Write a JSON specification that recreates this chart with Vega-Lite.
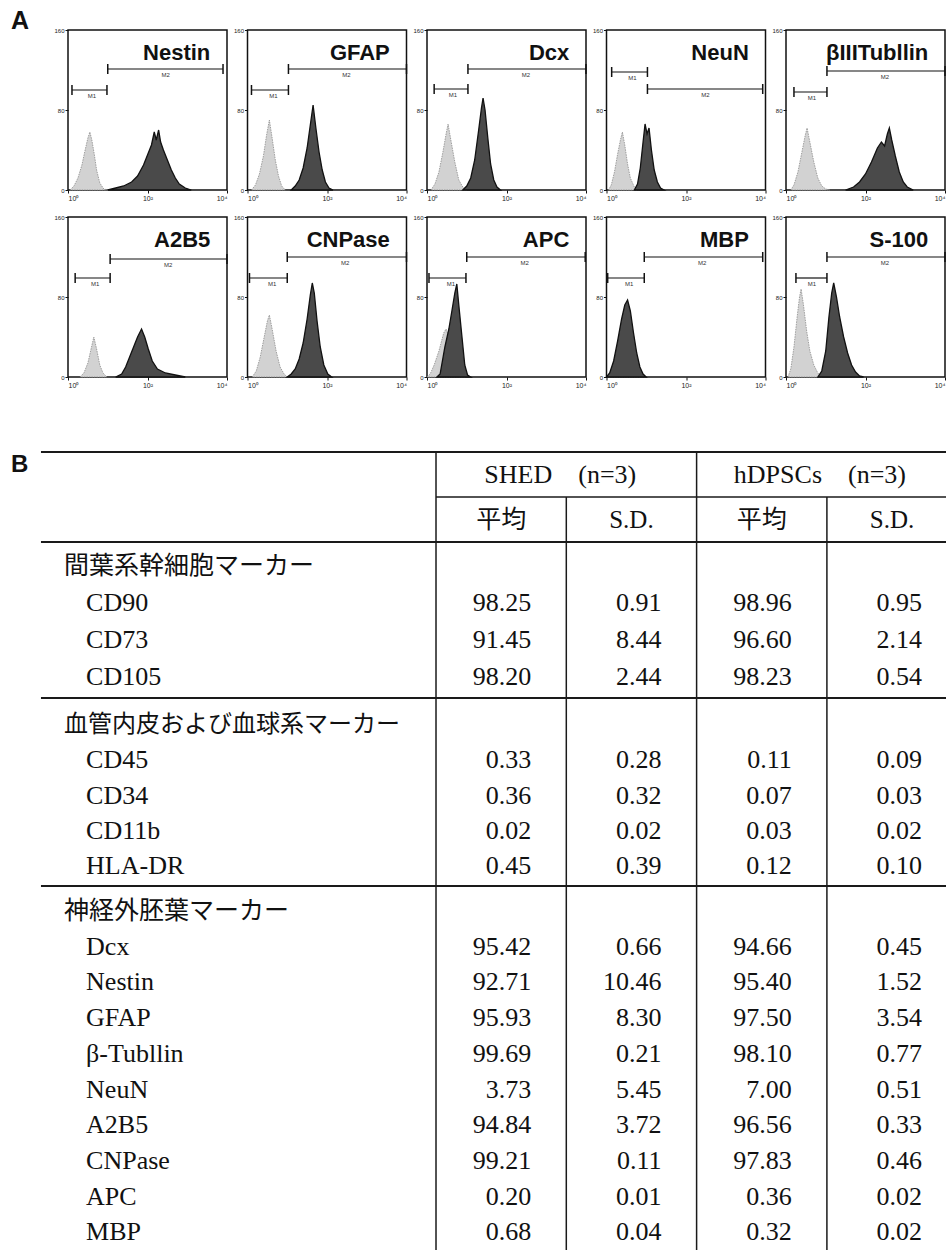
{
"$schema": "https://vega.github.io/schema/vega-lite/v6.json",
"background": "white",
"padding": {"left": 10, "top": 9, "right": 0, "bottom": 0},
"spacing": 62,
"config": {"view": {"stroke": "#111", "strokeWidth": 1.5}, "font": "Liberation Sans", "axis": {"labelOverlap": false, "labelSeparation": 0, "labelBound": false}, "axisX": {"labelOverlap": false}, "axisY": {"labelOverlap": false}, "axisQuantitative": {"labelOverlap": false}, "header": {"labels": false, "title": null, "labelFontSize": 0, "labelPadding": 0, "titlePadding": 0}},
"datasets": {
"panelA": [
{"marker":"Nestin","kind":"ctrl","x":0.05,"n":0},{"marker":"Nestin","kind":"ctrl","x":0.15,"n":4},{"marker":"Nestin","kind":"ctrl","x":0.25,"n":12},{"marker":"Nestin","kind":"ctrl","x":0.35,"n":25},{"marker":"Nestin","kind":"ctrl","x":0.42,"n":38},{"marker":"Nestin","kind":"ctrl","x":0.5,"n":52},{"marker":"Nestin","kind":"ctrl","x":0.55,"n":58},{"marker":"Nestin","kind":"ctrl","x":0.6,"n":50},{"marker":"Nestin","kind":"ctrl","x":0.66,"n":36},{"marker":"Nestin","kind":"ctrl","x":0.72,"n":20},{"marker":"Nestin","kind":"ctrl","x":0.8,"n":7},{"marker":"Nestin","kind":"ctrl","x":0.9,"n":1},{"marker":"Nestin","kind":"ctrl","x":1.0,"n":0},
{"marker":"Nestin","kind":"stain","x":1.0,"n":0},{"marker":"Nestin","kind":"stain","x":1.2,"n":2},{"marker":"Nestin","kind":"stain","x":1.4,"n":4},{"marker":"Nestin","kind":"stain","x":1.6,"n":8},{"marker":"Nestin","kind":"stain","x":1.75,"n":14},{"marker":"Nestin","kind":"stain","x":1.9,"n":25},{"marker":"Nestin","kind":"stain","x":2.0,"n":35},{"marker":"Nestin","kind":"stain","x":2.1,"n":45},{"marker":"Nestin","kind":"stain","x":2.17,"n":58},{"marker":"Nestin","kind":"stain","x":2.22,"n":50},{"marker":"Nestin","kind":"stain","x":2.28,"n":60},{"marker":"Nestin","kind":"stain","x":2.33,"n":48},{"marker":"Nestin","kind":"stain","x":2.4,"n":40},{"marker":"Nestin","kind":"stain","x":2.5,"n":30},{"marker":"Nestin","kind":"stain","x":2.6,"n":20},{"marker":"Nestin","kind":"stain","x":2.7,"n":12},{"marker":"Nestin","kind":"stain","x":2.8,"n":6},{"marker":"Nestin","kind":"stain","x":2.95,"n":2},{"marker":"Nestin","kind":"stain","x":3.1,"n":0},
{"marker":"GFAP","kind":"ctrl","x":0.1,"n":0},{"marker":"GFAP","kind":"ctrl","x":0.2,"n":5},{"marker":"GFAP","kind":"ctrl","x":0.3,"n":16},{"marker":"GFAP","kind":"ctrl","x":0.4,"n":34},{"marker":"GFAP","kind":"ctrl","x":0.48,"n":55},{"marker":"GFAP","kind":"ctrl","x":0.55,"n":70},{"marker":"GFAP","kind":"ctrl","x":0.62,"n":52},{"marker":"GFAP","kind":"ctrl","x":0.7,"n":30},{"marker":"GFAP","kind":"ctrl","x":0.78,"n":14},{"marker":"GFAP","kind":"ctrl","x":0.86,"n":4},{"marker":"GFAP","kind":"ctrl","x":0.95,"n":0},
{"marker":"GFAP","kind":"stain","x":1.1,"n":0},{"marker":"GFAP","kind":"stain","x":1.2,"n":4},{"marker":"GFAP","kind":"stain","x":1.3,"n":10},{"marker":"GFAP","kind":"stain","x":1.4,"n":22},{"marker":"GFAP","kind":"stain","x":1.5,"n":42},{"marker":"GFAP","kind":"stain","x":1.58,"n":65},{"marker":"GFAP","kind":"stain","x":1.65,"n":85},{"marker":"GFAP","kind":"stain","x":1.72,"n":62},{"marker":"GFAP","kind":"stain","x":1.8,"n":38},{"marker":"GFAP","kind":"stain","x":1.88,"n":20},{"marker":"GFAP","kind":"stain","x":1.96,"n":8},{"marker":"GFAP","kind":"stain","x":2.05,"n":2},{"marker":"GFAP","kind":"stain","x":2.15,"n":0},
{"marker":"Dcx","kind":"ctrl","x":0.1,"n":0},{"marker":"Dcx","kind":"ctrl","x":0.2,"n":6},{"marker":"Dcx","kind":"ctrl","x":0.3,"n":18},{"marker":"Dcx","kind":"ctrl","x":0.4,"n":38},{"marker":"Dcx","kind":"ctrl","x":0.48,"n":56},{"marker":"Dcx","kind":"ctrl","x":0.53,"n":66},{"marker":"Dcx","kind":"ctrl","x":0.6,"n":50},{"marker":"Dcx","kind":"ctrl","x":0.7,"n":28},{"marker":"Dcx","kind":"ctrl","x":0.8,"n":10},{"marker":"Dcx","kind":"ctrl","x":0.9,"n":3},{"marker":"Dcx","kind":"ctrl","x":1.0,"n":0},
{"marker":"Dcx","kind":"stain","x":0.9,"n":0},{"marker":"Dcx","kind":"stain","x":1.0,"n":4},{"marker":"Dcx","kind":"stain","x":1.1,"n":12},{"marker":"Dcx","kind":"stain","x":1.2,"n":30},{"marker":"Dcx","kind":"stain","x":1.3,"n":60},{"marker":"Dcx","kind":"stain","x":1.37,"n":82},{"marker":"Dcx","kind":"stain","x":1.41,"n":92},{"marker":"Dcx","kind":"stain","x":1.46,"n":80},{"marker":"Dcx","kind":"stain","x":1.53,"n":52},{"marker":"Dcx","kind":"stain","x":1.6,"n":26},{"marker":"Dcx","kind":"stain","x":1.68,"n":10},{"marker":"Dcx","kind":"stain","x":1.76,"n":3},{"marker":"Dcx","kind":"stain","x":1.85,"n":0},
{"marker":"NeuN","kind":"ctrl","x":0.05,"n":0},{"marker":"NeuN","kind":"ctrl","x":0.12,"n":5},{"marker":"NeuN","kind":"ctrl","x":0.2,"n":18},{"marker":"NeuN","kind":"ctrl","x":0.28,"n":36},{"marker":"NeuN","kind":"ctrl","x":0.35,"n":50},{"marker":"NeuN","kind":"ctrl","x":0.4,"n":58},{"marker":"NeuN","kind":"ctrl","x":0.46,"n":45},{"marker":"NeuN","kind":"ctrl","x":0.53,"n":26},{"marker":"NeuN","kind":"ctrl","x":0.6,"n":12},{"marker":"NeuN","kind":"ctrl","x":0.7,"n":3},{"marker":"NeuN","kind":"ctrl","x":0.8,"n":0},
{"marker":"NeuN","kind":"stain","x":0.7,"n":0},{"marker":"NeuN","kind":"stain","x":0.78,"n":6},{"marker":"NeuN","kind":"stain","x":0.85,"n":22},{"marker":"NeuN","kind":"stain","x":0.92,"n":48},{"marker":"NeuN","kind":"stain","x":0.97,"n":66},{"marker":"NeuN","kind":"stain","x":1.02,"n":56},{"marker":"NeuN","kind":"stain","x":1.07,"n":62},{"marker":"NeuN","kind":"stain","x":1.13,"n":40},{"marker":"NeuN","kind":"stain","x":1.2,"n":20},{"marker":"NeuN","kind":"stain","x":1.28,"n":8},{"marker":"NeuN","kind":"stain","x":1.36,"n":2},{"marker":"NeuN","kind":"stain","x":1.45,"n":0},
{"marker":"βIIITubllin","kind":"ctrl","x":0.12,"n":0},{"marker":"βIIITubllin","kind":"ctrl","x":0.2,"n":5},{"marker":"βIIITubllin","kind":"ctrl","x":0.3,"n":18},{"marker":"βIIITubllin","kind":"ctrl","x":0.4,"n":38},{"marker":"βIIITubllin","kind":"ctrl","x":0.48,"n":54},{"marker":"βIIITubllin","kind":"ctrl","x":0.53,"n":62},{"marker":"βIIITubllin","kind":"ctrl","x":0.6,"n":48},{"marker":"βIIITubllin","kind":"ctrl","x":0.7,"n":28},{"marker":"βIIITubllin","kind":"ctrl","x":0.8,"n":12},{"marker":"βIIITubllin","kind":"ctrl","x":0.9,"n":4},{"marker":"βIIITubllin","kind":"ctrl","x":1.0,"n":1},{"marker":"βIIITubllin","kind":"ctrl","x":1.1,"n":0},
{"marker":"βIIITubllin","kind":"stain","x":1.5,"n":0},{"marker":"βIIITubllin","kind":"stain","x":1.7,"n":3},{"marker":"βIIITubllin","kind":"stain","x":1.85,"n":8},{"marker":"βIIITubllin","kind":"stain","x":2.0,"n":16},{"marker":"βIIITubllin","kind":"stain","x":2.15,"n":28},{"marker":"βIIITubllin","kind":"stain","x":2.3,"n":42},{"marker":"βIIITubllin","kind":"stain","x":2.4,"n":48},{"marker":"βIIITubllin","kind":"stain","x":2.48,"n":44},{"marker":"βIIITubllin","kind":"stain","x":2.55,"n":56},{"marker":"βIIITubllin","kind":"stain","x":2.6,"n":62},{"marker":"βIIITubllin","kind":"stain","x":2.66,"n":50},{"marker":"βIIITubllin","kind":"stain","x":2.75,"n":34},{"marker":"βIIITubllin","kind":"stain","x":2.85,"n":18},{"marker":"βIIITubllin","kind":"stain","x":2.95,"n":8},{"marker":"βIIITubllin","kind":"stain","x":3.05,"n":3},{"marker":"βIIITubllin","kind":"stain","x":3.2,"n":0},
{"marker":"A2B5","kind":"ctrl","x":0.3,"n":0},{"marker":"A2B5","kind":"ctrl","x":0.4,"n":4},{"marker":"A2B5","kind":"ctrl","x":0.5,"n":14},{"marker":"A2B5","kind":"ctrl","x":0.58,"n":28},{"marker":"A2B5","kind":"ctrl","x":0.65,"n":40},{"marker":"A2B5","kind":"ctrl","x":0.72,"n":28},{"marker":"A2B5","kind":"ctrl","x":0.8,"n":12},{"marker":"A2B5","kind":"ctrl","x":0.88,"n":4},{"marker":"A2B5","kind":"ctrl","x":0.98,"n":0},
{"marker":"A2B5","kind":"stain","x":1.2,"n":0},{"marker":"A2B5","kind":"stain","x":1.35,"n":3},{"marker":"A2B5","kind":"stain","x":1.45,"n":10},{"marker":"A2B5","kind":"stain","x":1.55,"n":20},{"marker":"A2B5","kind":"stain","x":1.65,"n":30},{"marker":"A2B5","kind":"stain","x":1.75,"n":40},{"marker":"A2B5","kind":"stain","x":1.85,"n":48},{"marker":"A2B5","kind":"stain","x":1.93,"n":40},{"marker":"A2B5","kind":"stain","x":2.02,"n":28},{"marker":"A2B5","kind":"stain","x":2.12,"n":16},{"marker":"A2B5","kind":"stain","x":2.25,"n":8},{"marker":"A2B5","kind":"stain","x":2.45,"n":4},{"marker":"A2B5","kind":"stain","x":2.7,"n":2},{"marker":"A2B5","kind":"stain","x":2.95,"n":0},
{"marker":"CNPase","kind":"ctrl","x":0.12,"n":0},{"marker":"CNPase","kind":"ctrl","x":0.22,"n":6},{"marker":"CNPase","kind":"ctrl","x":0.32,"n":20},{"marker":"CNPase","kind":"ctrl","x":0.42,"n":40},{"marker":"CNPase","kind":"ctrl","x":0.5,"n":56},{"marker":"CNPase","kind":"ctrl","x":0.55,"n":62},{"marker":"CNPase","kind":"ctrl","x":0.62,"n":48},{"marker":"CNPase","kind":"ctrl","x":0.72,"n":26},{"marker":"CNPase","kind":"ctrl","x":0.82,"n":10},{"marker":"CNPase","kind":"ctrl","x":0.92,"n":3},{"marker":"CNPase","kind":"ctrl","x":1.0,"n":0},
{"marker":"CNPase","kind":"stain","x":1.0,"n":0},{"marker":"CNPase","kind":"stain","x":1.1,"n":3},{"marker":"CNPase","kind":"stain","x":1.2,"n":8},{"marker":"CNPase","kind":"stain","x":1.3,"n":18},{"marker":"CNPase","kind":"stain","x":1.4,"n":34},{"marker":"CNPase","kind":"stain","x":1.5,"n":58},{"marker":"CNPase","kind":"stain","x":1.58,"n":82},{"marker":"CNPase","kind":"stain","x":1.63,"n":94},{"marker":"CNPase","kind":"stain","x":1.68,"n":84},{"marker":"CNPase","kind":"stain","x":1.75,"n":56},{"marker":"CNPase","kind":"stain","x":1.83,"n":30},{"marker":"CNPase","kind":"stain","x":1.92,"n":12},{"marker":"CNPase","kind":"stain","x":2.02,"n":3},{"marker":"CNPase","kind":"stain","x":2.12,"n":0},
{"marker":"APC","kind":"ctrl","x":0.0,"n":0},{"marker":"APC","kind":"ctrl","x":0.08,"n":3},{"marker":"APC","kind":"ctrl","x":0.18,"n":12},{"marker":"APC","kind":"ctrl","x":0.3,"n":26},{"marker":"APC","kind":"ctrl","x":0.42,"n":44},{"marker":"APC","kind":"ctrl","x":0.48,"n":48},{"marker":"APC","kind":"ctrl","x":0.55,"n":40},{"marker":"APC","kind":"ctrl","x":0.65,"n":22},{"marker":"APC","kind":"ctrl","x":0.75,"n":8},{"marker":"APC","kind":"ctrl","x":0.85,"n":2},{"marker":"APC","kind":"ctrl","x":0.95,"n":0},
{"marker":"APC","kind":"stain","x":0.25,"n":0},{"marker":"APC","kind":"stain","x":0.33,"n":3},{"marker":"APC","kind":"stain","x":0.45,"n":30},{"marker":"APC","kind":"stain","x":0.55,"n":48},{"marker":"APC","kind":"stain","x":0.63,"n":67},{"marker":"APC","kind":"stain","x":0.7,"n":84},{"marker":"APC","kind":"stain","x":0.75,"n":93},{"marker":"APC","kind":"stain","x":0.8,"n":72},{"marker":"APC","kind":"stain","x":0.88,"n":40},{"marker":"APC","kind":"stain","x":0.95,"n":12},{"marker":"APC","kind":"stain","x":1.02,"n":2},{"marker":"APC","kind":"stain","x":1.1,"n":0},
{"marker":"MBP","kind":"ctrl","x":0.05,"n":0},{"marker":"MBP","kind":"ctrl","x":0.15,"n":10},{"marker":"MBP","kind":"ctrl","x":0.3,"n":35},{"marker":"MBP","kind":"ctrl","x":0.45,"n":60},{"marker":"MBP","kind":"ctrl","x":0.52,"n":66},{"marker":"MBP","kind":"ctrl","x":0.62,"n":45},{"marker":"MBP","kind":"ctrl","x":0.75,"n":18},{"marker":"MBP","kind":"ctrl","x":0.9,"n":2},{"marker":"MBP","kind":"ctrl","x":1.0,"n":0},
{"marker":"MBP","kind":"stain","x":0.0,"n":0},{"marker":"MBP","kind":"stain","x":0.08,"n":4},{"marker":"MBP","kind":"stain","x":0.18,"n":16},{"marker":"MBP","kind":"stain","x":0.28,"n":36},{"marker":"MBP","kind":"stain","x":0.38,"n":58},{"marker":"MBP","kind":"stain","x":0.46,"n":72},{"marker":"MBP","kind":"stain","x":0.53,"n":77},{"marker":"MBP","kind":"stain","x":0.6,"n":66},{"marker":"MBP","kind":"stain","x":0.68,"n":44},{"marker":"MBP","kind":"stain","x":0.76,"n":24},{"marker":"MBP","kind":"stain","x":0.84,"n":10},{"marker":"MBP","kind":"stain","x":0.92,"n":3},{"marker":"MBP","kind":"stain","x":1.0,"n":0},
{"marker":"S-100","kind":"ctrl","x":0.05,"n":0},{"marker":"S-100","kind":"ctrl","x":0.12,"n":8},{"marker":"S-100","kind":"ctrl","x":0.2,"n":30},{"marker":"S-100","kind":"ctrl","x":0.28,"n":60},{"marker":"S-100","kind":"ctrl","x":0.34,"n":80},{"marker":"S-100","kind":"ctrl","x":0.38,"n":88},{"marker":"S-100","kind":"ctrl","x":0.44,"n":72},{"marker":"S-100","kind":"ctrl","x":0.52,"n":46},{"marker":"S-100","kind":"ctrl","x":0.6,"n":26},{"marker":"S-100","kind":"ctrl","x":0.7,"n":12},{"marker":"S-100","kind":"ctrl","x":0.8,"n":4},{"marker":"S-100","kind":"ctrl","x":0.9,"n":0},
{"marker":"S-100","kind":"stain","x":0.8,"n":0},{"marker":"S-100","kind":"stain","x":0.9,"n":6},{"marker":"S-100","kind":"stain","x":1.0,"n":26},{"marker":"S-100","kind":"stain","x":1.08,"n":60},{"marker":"S-100","kind":"stain","x":1.15,"n":84},{"marker":"S-100","kind":"stain","x":1.2,"n":94},{"marker":"S-100","kind":"stain","x":1.27,"n":80},{"marker":"S-100","kind":"stain","x":1.35,"n":60},{"marker":"S-100","kind":"stain","x":1.45,"n":40},{"marker":"S-100","kind":"stain","x":1.55,"n":24},{"marker":"S-100","kind":"stain","x":1.65,"n":12},{"marker":"S-100","kind":"stain","x":1.75,"n":5},{"marker":"S-100","kind":"stain","x":1.85,"n":1},{"marker":"S-100","kind":"stain","x":1.95,"n":0},
{"marker":"Nestin","kind":"M1","x1":0.1,"x2":0.98,"level":100},{"marker":"Nestin","kind":"M2","x1":1.0,"x2":3.9,"level":121},
{"marker":"GFAP","kind":"M1","x1":0.1,"x2":1.03,"level":100},{"marker":"GFAP","kind":"M2","x1":1.03,"x2":4.0,"level":121},
{"marker":"Dcx","kind":"M1","x1":0.18,"x2":1.03,"level":101},{"marker":"Dcx","kind":"M2","x1":1.03,"x2":4.0,"level":121},
{"marker":"NeuN","kind":"M1","x1":0.13,"x2":1.03,"level":118},{"marker":"NeuN","kind":"M2","x1":1.03,"x2":3.93,"level":101},
{"marker":"βIIITubllin","kind":"M1","x1":0.2,"x2":1.03,"level":98},{"marker":"βIIITubllin","kind":"M2","x1":1.03,"x2":4.0,"level":119},
{"marker":"A2B5","kind":"M1","x1":0.18,"x2":1.06,"level":99},{"marker":"A2B5","kind":"M2","x1":1.06,"x2":4.0,"level":118},
{"marker":"CNPase","kind":"M1","x1":0.05,"x2":1.0,"level":99},{"marker":"CNPase","kind":"M2","x1":1.0,"x2":4.0,"level":120},
{"marker":"APC","kind":"M1","x1":0.05,"x2":0.98,"level":99},{"marker":"APC","kind":"M2","x1":1.0,"x2":3.98,"level":120},
{"marker":"MBP","kind":"M1","x1":0.03,"x2":0.95,"level":99},{"marker":"MBP","kind":"M2","x1":0.95,"x2":3.93,"level":120},
{"marker":"S-100","kind":"M1","x1":0.25,"x2":1.03,"level":99},{"marker":"S-100","kind":"M2","x1":1.03,"x2":4.0,"level":120}
],
"rows": [
{"g":1,"i":0,"label":"間葉系幹細胞マーカー"},{"g":1,"i":1,"label":"CD90"},{"g":1,"i":2,"label":"CD73"},{"g":1,"i":3,"label":"CD105"},
{"g":2,"i":0,"label":"血管内皮および血球系マーカー"},{"g":2,"i":1,"label":"CD45"},{"g":2,"i":2,"label":"CD34"},{"g":2,"i":3,"label":"CD11b"},{"g":2,"i":4,"label":"HLA-DR"},
{"g":3,"i":0,"label":"神経外胚葉マーカー"},{"g":3,"i":1,"label":"Dcx"},{"g":3,"i":2,"label":"Nestin"},{"g":3,"i":3,"label":"GFAP"},{"g":3,"i":4,"label":"β-Tubllin"},{"g":3,"i":5,"label":"NeuN"},{"g":3,"i":6,"label":"A2B5"},{"g":3,"i":7,"label":"CNPase"},{"g":3,"i":8,"label":"APC"},{"g":3,"i":9,"label":"MBP"}
],
"vals": [
{"g":1,"i":1,"col":1,"v":98.25},{"g":1,"i":1,"col":2,"v":0.91},{"g":1,"i":1,"col":3,"v":98.96},{"g":1,"i":1,"col":4,"v":0.95},
{"g":1,"i":2,"col":1,"v":91.45},{"g":1,"i":2,"col":2,"v":8.44},{"g":1,"i":2,"col":3,"v":96.60},{"g":1,"i":2,"col":4,"v":2.14},
{"g":1,"i":3,"col":1,"v":98.20},{"g":1,"i":3,"col":2,"v":2.44},{"g":1,"i":3,"col":3,"v":98.23},{"g":1,"i":3,"col":4,"v":0.54},
{"g":2,"i":1,"col":1,"v":0.33},{"g":2,"i":1,"col":2,"v":0.28},{"g":2,"i":1,"col":3,"v":0.11},{"g":2,"i":1,"col":4,"v":0.09},
{"g":2,"i":2,"col":1,"v":0.36},{"g":2,"i":2,"col":2,"v":0.32},{"g":2,"i":2,"col":3,"v":0.07},{"g":2,"i":2,"col":4,"v":0.03},
{"g":2,"i":3,"col":1,"v":0.02},{"g":2,"i":3,"col":2,"v":0.02},{"g":2,"i":3,"col":3,"v":0.03},{"g":2,"i":3,"col":4,"v":0.02},
{"g":2,"i":4,"col":1,"v":0.45},{"g":2,"i":4,"col":2,"v":0.39},{"g":2,"i":4,"col":3,"v":0.12},{"g":2,"i":4,"col":4,"v":0.10},
{"g":3,"i":1,"col":1,"v":95.42},{"g":3,"i":1,"col":2,"v":0.66},{"g":3,"i":1,"col":3,"v":94.66},{"g":3,"i":1,"col":4,"v":0.45},
{"g":3,"i":2,"col":1,"v":92.71},{"g":3,"i":2,"col":2,"v":10.46},{"g":3,"i":2,"col":3,"v":95.40},{"g":3,"i":2,"col":4,"v":1.52},
{"g":3,"i":3,"col":1,"v":95.93},{"g":3,"i":3,"col":2,"v":8.30},{"g":3,"i":3,"col":3,"v":97.50},{"g":3,"i":3,"col":4,"v":3.54},
{"g":3,"i":4,"col":1,"v":99.69},{"g":3,"i":4,"col":2,"v":0.21},{"g":3,"i":4,"col":3,"v":98.10},{"g":3,"i":4,"col":4,"v":0.77},
{"g":3,"i":5,"col":1,"v":3.73},{"g":3,"i":5,"col":2,"v":5.45},{"g":3,"i":5,"col":3,"v":7.00},{"g":3,"i":5,"col":4,"v":0.51},
{"g":3,"i":6,"col":1,"v":94.84},{"g":3,"i":6,"col":2,"v":3.72},{"g":3,"i":6,"col":3,"v":96.56},{"g":3,"i":6,"col":4,"v":0.33},
{"g":3,"i":7,"col":1,"v":99.21},{"g":3,"i":7,"col":2,"v":0.11},{"g":3,"i":7,"col":3,"v":97.83},{"g":3,"i":7,"col":4,"v":0.46},
{"g":3,"i":8,"col":1,"v":0.20},{"g":3,"i":8,"col":2,"v":0.01},{"g":3,"i":8,"col":3,"v":0.36},{"g":3,"i":8,"col":4,"v":0.02},
{"g":3,"i":9,"col":1,"v":0.68},{"g":3,"i":9,"col":2,"v":0.04},{"g":3,"i":9,"col":3,"v":0.32},{"g":3,"i":9,"col":4,"v":0.02}
],
"subhdr": [{"col":1,"t":"平均"},{"col":2,"t":"S.D."},{"col":3,"t":"平均"},{"col":4,"t":"S.D."}]
},
"vconcat": [
{
"title": {"text": "A", "anchor": "start", "frame": "group", "dx": -57, "fontSize": 25, "font": "Liberation Sans", "fontWeight": "bold", "color": "#111", "offset": -28, "baseline": "alphabetic"},
"data": {"name": "panelA"},
"facet": {"field": "marker", "type": "nominal", "sort": ["Nestin","GFAP","Dcx","NeuN","βIIITubllin","A2B5","CNPase","APC","MBP","S-100"], "header": {"labels": false, "title": null, "labelExpr": "''", "labelFontSize": 0, "labelPadding": 0}},
"columns": 5,
"bounds": "flush",
"spacing": {"row": 27, "column": 20.5},
"resolve": {"axis": {"x": "independent", "y": "independent"}},
"spec": {
"width": 159, "height": 160,
"layer": [
{"transform": [{"filter": "datum.kind === 'ctrl'"}],
 "mark": {"type": "area", "fill": "#d2d2d2", "stroke": "#8c8c8c", "strokeWidth": 0.8, "strokeDash": [1.5, 1]},
 "encoding": {
  "x": {"field": "x", "type": "quantitative", "title": null, "scale": {"domain": [0, 4], "nice": false, "zero": false},
        "axis": {"values": [0,1,2,3,4], "labelExpr": "['10⁰','10¹','10²','10³','10⁴'][datum.value]", "labelFontSize": 7, "labelColor": "#222", "labelPadding": 1, "labelFlush": true, "labelOverlap": false, "labelSeparation": 0, "tickSize": 3, "tickColor": "#111", "domain": false, "grid": false}},
  "y": {"field": "n", "type": "quantitative", "title": null, "stack": null, "scale": {"domain": [0, 160], "nice": false},
        "axis": {"values": [0,20,40,60,80,100,120,140,160], "labelFontSize": 6, "labelColor": "#222", "labelPadding": 1, "labelOverlap": false, "labelSeparation": 0, "tickSize": 3, "tickColor": "#111", "domain": false, "grid": false}}}},
{"transform": [{"filter": "datum.kind === 'stain'"}],
 "mark": {"type": "area", "fill": "#4a4a4a", "stroke": "#111", "strokeWidth": 1.3},
 "encoding": {
  "x": {"field": "x", "type": "quantitative", "title": null, "axis": {"labelOverlap": false}},
  "y": {"field": "n", "type": "quantitative", "title": null, "stack": null, "axis": {"labelOverlap": false}}}},
{"transform": [{"filter": "datum.kind === 'M1' || datum.kind === 'M2'"}],
 "mark": {"type": "rule", "color": "#111", "strokeWidth": 1.2},
 "encoding": {
  "x": {"field": "x1", "type": "quantitative", "title": null, "axis": {"labelOverlap": false}},
  "x2": {"field": "x2"},
  "y": {"field": "level", "type": "quantitative", "title": null, "axis": {"labelOverlap": false}}}},
{"transform": [{"filter": "datum.kind === 'M1' || datum.kind === 'M2'"}],
 "mark": {"type": "point", "shape": "M0,-1L0,1", "size": 100, "filled": false, "stroke": "#111", "strokeWidth": 1.5, "opacity": 1},
 "encoding": {
  "x": {"field": "x1", "type": "quantitative", "title": null, "axis": {"labelOverlap": false}},
  "y": {"field": "level", "type": "quantitative", "title": null, "axis": {"labelOverlap": false}}}},
{"transform": [{"filter": "datum.kind === 'M1' || datum.kind === 'M2'"}],
 "mark": {"type": "point", "shape": "M0,-1L0,1", "size": 100, "filled": false, "stroke": "#111", "strokeWidth": 1.5, "opacity": 1},
 "encoding": {
  "x": {"field": "x2", "type": "quantitative", "title": null, "axis": {"labelOverlap": false}},
  "y": {"field": "level", "type": "quantitative", "title": null, "axis": {"labelOverlap": false}}}},
{"transform": [{"filter": "datum.kind === 'M1'"}],
 "mark": {"type": "text", "fontSize": 6, "dx": -15, "dy": 6, "color": "#333"},
 "encoding": {
  "x": {"field": "x2", "type": "quantitative", "title": null, "axis": {"labelOverlap": false}},
  "y": {"field": "level", "type": "quantitative", "title": null, "axis": {"labelOverlap": false}},
  "text": {"field": "kind"}}},
{"transform": [{"filter": "datum.kind === 'M2'"}],
 "mark": {"type": "text", "fontSize": 6, "dx": 58, "dy": 6, "color": "#333"},
 "encoding": {
  "x": {"field": "x1", "type": "quantitative", "title": null, "axis": {"labelOverlap": false}},
  "y": {"field": "level", "type": "quantitative", "title": null, "axis": {"labelOverlap": false}},
  "text": {"field": "kind"}}},
{"transform": [{"filter": "datum.kind === 'M2'"}],
 "mark": {"type": "text", "align": "right", "baseline": "middle", "fontSize": 22, "fontWeight": "bold", "font": "Liberation Sans", "color": "#111"},
 "encoding": {
  "x": {"datum": 3.58, "type": "quantitative", "title": null, "axis": {"labelOverlap": false}},
  "y": {"datum": 137, "type": "quantitative", "title": null, "axis": {"labelOverlap": false}},
  "text": {"field": "marker"}}}
]
}
},
{
"vconcat": [
{
"width": 879, "height": 90, "view": {"stroke": null},
"layer": [
{"data": {"values": [{}]}, "mark": {"type": "rule", "color": "#1a1a1a", "strokeWidth": 2},
 "encoding": {"x": {"datum": -2.5317, "type": "quantitative", "scale": {"domain": [-2.3243, 4.4217], "nice": false, "zero": false}, "axis": null}, "x2": {"datum": 4.4217}, "y": {"datum": -0.5, "type": "quantitative", "scale": {"domain": [-0.5, 1.5], "nice": false, "zero": false, "reverse": true}, "axis": null}}},
{"data": {"values": [{}]}, "mark": {"type": "rule", "color": "#1a1a1a", "strokeWidth": 1.6},
 "encoding": {"x": {"datum": 0.5, "type": "quantitative", "axis": null}, "x2": {"datum": 4.4217}, "y": {"datum": 0.5, "type": "quantitative", "axis": null}}},
{"data": {"values": [{}]}, "mark": {"type": "rule", "color": "#1a1a1a", "strokeWidth": 2},
 "encoding": {"x": {"datum": -2.5317, "type": "quantitative", "axis": null}, "x2": {"datum": 4.4217}, "y": {"datum": 1.5, "type": "quantitative", "axis": null}}},
{"data": {"values": [{}]}, "mark": {"type": "rule", "color": "#1a1a1a", "strokeWidth": 1.5},
 "encoding": {"x": {"datum": 0.5, "type": "quantitative", "axis": null}, "y": {"datum": -0.5, "type": "quantitative", "axis": null}, "y2": {"datum": 1.5}}},
{"data": {"values": [{}]}, "mark": {"type": "rule", "color": "#1a1a1a", "strokeWidth": 1.5},
 "encoding": {"x": {"datum": 2.5, "type": "quantitative", "axis": null}, "y": {"datum": -0.5, "type": "quantitative", "axis": null}, "y2": {"datum": 1.5}}},
{"data": {"values": [{}]}, "mark": {"type": "rule", "color": "#1a1a1a", "strokeWidth": 1.5},
 "encoding": {"x": {"datum": 1.5, "type": "quantitative", "axis": null}, "y": {"datum": 0.5, "type": "quantitative", "axis": null}, "y2": {"datum": 1.5}}},
{"data": {"values": [{}]}, "mark": {"type": "rule", "color": "#1a1a1a", "strokeWidth": 1.5},
 "encoding": {"x": {"datum": 3.5, "type": "quantitative", "axis": null}, "y": {"datum": 0.5, "type": "quantitative", "axis": null}, "y2": {"datum": 1.5}}},
{"data": {"values": [{}]}, "mark": {"type": "text", "text": "B", "align": "left", "baseline": "middle", "font": "Liberation Sans", "fontWeight": "bold", "fontSize": 24, "color": "#111"},
 "encoding": {"x": {"datum": -2.762, "type": "quantitative", "axis": null}, "y": {"datum": -0.222, "type": "quantitative", "axis": null}}},
{"data": {"values": [{}]}, "mark": {"type": "text", "text": "SHED　(n=3)", "align": "center", "baseline": "middle", "font": "Liberation Serif, Noto Sans CJK JP", "fontSize": 26, "color": "#111", "dx": -6},
 "encoding": {"x": {"datum": 1.5, "type": "quantitative", "axis": null}, "y": {"datum": 0, "type": "quantitative", "axis": null}}},
{"data": {"values": [{}]}, "mark": {"type": "text", "text": "hDPSCs　(n=3)", "align": "center", "baseline": "middle", "font": "Liberation Serif, Noto Sans CJK JP", "fontSize": 26, "color": "#111", "dx": -7},
 "encoding": {"x": {"datum": 3.5, "type": "quantitative", "axis": null}, "y": {"datum": 0, "type": "quantitative", "axis": null}}},
{"data": {"name": "subhdr"}, "mark": {"type": "text", "align": "center", "baseline": "middle", "font": "Liberation Serif, Noto Sans CJK JP", "fontSize": 25, "color": "#111"},
 "encoding": {"x": {"field": "col", "type": "quantitative", "axis": null}, "y": {"datum": 1, "type": "quantitative", "axis": null}, "text": {"field": "t"}}}
]
},
{
"width": 879, "height": 156, "view": {"stroke": null},
"layer": [
{"data": {"values": [{}]}, "mark": {"type": "rule", "color": "#1a1a1a", "strokeWidth": 1.5},
 "encoding": {"x": {"datum": 0.5, "type": "quantitative", "scale": {"domain": [-2.3243, 4.4217], "nice": false, "zero": false}, "axis": null}, "y": {"datum": -0.6486, "type": "quantitative", "scale": {"domain": [-0.6486, 3.5676], "nice": false, "zero": false, "reverse": true}, "axis": null}, "y2": {"datum": 3.5676}}},
{"data": {"values": [{}]}, "mark": {"type": "rule", "color": "#1a1a1a", "strokeWidth": 1.5},
 "encoding": {"x": {"datum": 1.5, "type": "quantitative", "axis": null}, "y": {"datum": -0.6486, "type": "quantitative", "axis": null}, "y2": {"datum": 3.5676}}},
{"data": {"values": [{}]}, "mark": {"type": "rule", "color": "#1a1a1a", "strokeWidth": 1.5},
 "encoding": {"x": {"datum": 2.5, "type": "quantitative", "axis": null}, "y": {"datum": -0.6486, "type": "quantitative", "axis": null}, "y2": {"datum": 3.5676}}},
{"data": {"values": [{}]}, "mark": {"type": "rule", "color": "#1a1a1a", "strokeWidth": 1.5},
 "encoding": {"x": {"datum": 3.5, "type": "quantitative", "axis": null}, "y": {"datum": -0.6486, "type": "quantitative", "axis": null}, "y2": {"datum": 3.5676}}},
{"data": {"values": [{}]}, "mark": {"type": "rule", "color": "#1a1a1a", "strokeWidth": 2},
 "encoding": {"x": {"datum": -2.5317, "type": "quantitative", "axis": null}, "x2": {"datum": 4.4217}, "y": {"datum": 3.5676, "type": "quantitative", "axis": null}}},
{"data": {"name": "rows"}, "transform": [{"filter": "datum.g === 1 && datum.i === 0"}],
 "mark": {"type": "text", "align": "left", "baseline": "middle", "font": "Noto Sans CJK JP", "fontSize": 25, "color": "#111"},
 "encoding": {"x": {"datum": -2.3542, "type": "quantitative", "axis": null}, "y": {"field": "i", "type": "quantitative", "axis": null}, "text": {"field": "label"}}},
{"data": {"name": "rows"}, "transform": [{"filter": "datum.g === 1 && datum.i > 0"}],
 "mark": {"type": "text", "align": "left", "baseline": "middle", "font": "Liberation Serif", "fontSize": 26, "color": "#111"},
 "encoding": {"x": {"datum": -2.1854, "type": "quantitative", "axis": null}, "y": {"field": "i", "type": "quantitative", "axis": null}, "text": {"field": "label"}}},
{"data": {"name": "vals"}, "transform": [{"filter": "datum.g === 1"}],
 "mark": {"type": "text", "align": "right", "baseline": "middle", "font": "Liberation Serif", "fontSize": 26, "color": "#111", "dx": 30},
 "encoding": {"x": {"field": "col", "type": "quantitative", "axis": null}, "y": {"field": "i", "type": "quantitative", "axis": null}, "text": {"field": "v", "type": "quantitative", "format": ".2f"}}}
]
},
{
"width": 879, "height": 188, "view": {"stroke": null},
"layer": [
{"data": {"values": [{}]}, "mark": {"type": "rule", "color": "#1a1a1a", "strokeWidth": 1.5},
 "encoding": {"x": {"datum": 0.5, "type": "quantitative", "scale": {"domain": [-2.3243, 4.4217], "nice": false, "zero": false}, "axis": null}, "y": {"datum": -0.7649, "type": "quantitative", "scale": {"domain": [-0.7649, 4.5609], "nice": false, "zero": false, "reverse": true}, "axis": null}, "y2": {"datum": 4.5609}}},
{"data": {"values": [{}]}, "mark": {"type": "rule", "color": "#1a1a1a", "strokeWidth": 1.5},
 "encoding": {"x": {"datum": 1.5, "type": "quantitative", "axis": null}, "y": {"datum": -0.7649, "type": "quantitative", "axis": null}, "y2": {"datum": 4.5609}}},
{"data": {"values": [{}]}, "mark": {"type": "rule", "color": "#1a1a1a", "strokeWidth": 1.5},
 "encoding": {"x": {"datum": 2.5, "type": "quantitative", "axis": null}, "y": {"datum": -0.7649, "type": "quantitative", "axis": null}, "y2": {"datum": 4.5609}}},
{"data": {"values": [{}]}, "mark": {"type": "rule", "color": "#1a1a1a", "strokeWidth": 1.5},
 "encoding": {"x": {"datum": 3.5, "type": "quantitative", "axis": null}, "y": {"datum": -0.7649, "type": "quantitative", "axis": null}, "y2": {"datum": 4.5609}}},
{"data": {"values": [{}]}, "mark": {"type": "rule", "color": "#1a1a1a", "strokeWidth": 2},
 "encoding": {"x": {"datum": -2.5317, "type": "quantitative", "axis": null}, "x2": {"datum": 4.4217}, "y": {"datum": 4.5609, "type": "quantitative", "axis": null}}},
{"data": {"name": "rows"}, "transform": [{"filter": "datum.g === 2 && datum.i === 0"}],
 "mark": {"type": "text", "align": "left", "baseline": "middle", "font": "Noto Sans CJK JP", "fontSize": 24, "color": "#111"},
 "encoding": {"x": {"datum": -2.3542, "type": "quantitative", "axis": null}, "y": {"field": "i", "type": "quantitative", "axis": null}, "text": {"field": "label"}}},
{"data": {"name": "rows"}, "transform": [{"filter": "datum.g === 2 && datum.i > 0"}],
 "mark": {"type": "text", "align": "left", "baseline": "middle", "font": "Liberation Serif", "fontSize": 26, "color": "#111"},
 "encoding": {"x": {"datum": -2.1854, "type": "quantitative", "axis": null}, "y": {"field": "i", "type": "quantitative", "axis": null}, "text": {"field": "label"}}},
{"data": {"name": "vals"}, "transform": [{"filter": "datum.g === 2"}],
 "mark": {"type": "text", "align": "right", "baseline": "middle", "font": "Liberation Serif", "fontSize": 26, "color": "#111", "dx": 30},
 "encoding": {"x": {"field": "col", "type": "quantitative", "axis": null}, "y": {"field": "i", "type": "quantitative", "axis": null}, "text": {"field": "v", "type": "quantitative", "format": ".2f"}}}
]
},
{
"width": 879, "height": 364, "view": {"stroke": null},
"layer": [
{"data": {"values": [{}]}, "mark": {"type": "rule", "color": "#1a1a1a", "strokeWidth": 1.5},
 "encoding": {"x": {"datum": 0.5, "type": "quantitative", "scale": {"domain": [-2.3243, 4.4217], "nice": false, "zero": false}, "axis": null}, "y": {"datum": -0.7003, "type": "quantitative", "scale": {"domain": [-0.7003, 9.4958], "nice": false, "zero": false, "reverse": true}, "axis": null}, "y2": {"datum": 9.4958}}},
{"data": {"values": [{}]}, "mark": {"type": "rule", "color": "#1a1a1a", "strokeWidth": 1.5},
 "encoding": {"x": {"datum": 1.5, "type": "quantitative", "axis": null}, "y": {"datum": -0.7003, "type": "quantitative", "axis": null}, "y2": {"datum": 9.4958}}},
{"data": {"values": [{}]}, "mark": {"type": "rule", "color": "#1a1a1a", "strokeWidth": 1.5},
 "encoding": {"x": {"datum": 2.5, "type": "quantitative", "axis": null}, "y": {"datum": -0.7003, "type": "quantitative", "axis": null}, "y2": {"datum": 9.4958}}},
{"data": {"values": [{}]}, "mark": {"type": "rule", "color": "#1a1a1a", "strokeWidth": 1.5},
 "encoding": {"x": {"datum": 3.5, "type": "quantitative", "axis": null}, "y": {"datum": -0.7003, "type": "quantitative", "axis": null}, "y2": {"datum": 9.4958}}},
{"data": {"name": "rows"}, "transform": [{"filter": "datum.g === 3 && datum.i === 0"}],
 "mark": {"type": "text", "align": "left", "baseline": "middle", "font": "Noto Sans CJK JP", "fontSize": 25, "color": "#111"},
 "encoding": {"x": {"datum": -2.3542, "type": "quantitative", "axis": null}, "y": {"field": "i", "type": "quantitative", "axis": null}, "text": {"field": "label"}}},
{"data": {"name": "rows"}, "transform": [{"filter": "datum.g === 3 && datum.i > 0"}],
 "mark": {"type": "text", "align": "left", "baseline": "middle", "font": "Liberation Serif", "fontSize": 26, "color": "#111"},
 "encoding": {"x": {"datum": -2.1854, "type": "quantitative", "axis": null}, "y": {"field": "i", "type": "quantitative", "axis": null}, "text": {"field": "label"}}},
{"data": {"name": "vals"}, "transform": [{"filter": "datum.g === 3"}],
 "mark": {"type": "text", "align": "right", "baseline": "middle", "font": "Liberation Serif", "fontSize": 26, "color": "#111", "dx": 30},
 "encoding": {"x": {"field": "col", "type": "quantitative", "axis": null}, "y": {"field": "i", "type": "quantitative", "axis": null}, "text": {"field": "v", "type": "quantitative", "format": ".2f"}}}
]
}
],
"spacing": 0,
"bounds": "flush",
"resolve": {"scale": {"x": "independent", "y": "independent"}}
}
]
}
